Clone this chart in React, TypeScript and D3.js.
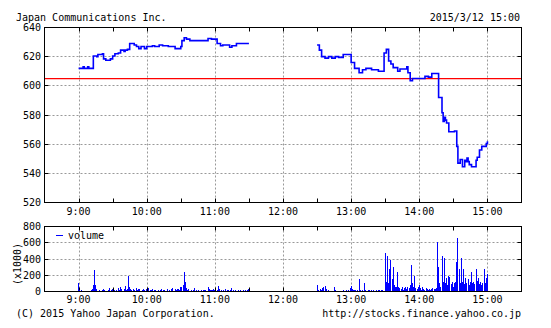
import React from 'react';
import * as d3 from 'd3';

const title = 'Japan Communications Inc.';
const stamp = '2015/3/12 15:00';
const copyright = '(C) 2015 Yahoo Japan Corporation.';
const sourceUrl = 'http://stocks.finance.yahoo.co.jp';
const prevClose = 605;
const priceTicks = [520, 540, 560, 580, 600, 620, 640];
const volumeTicks = [0, 200, 400, 600, 800];
const hourLabels = ['9:00', '10:00', '11:00', '12:00', '13:00', '14:00', '15:00'];
const halfHourMarks = ['9:00', '9:30', '10:00', '10:30', '11:00', '11:30', '12:00', '12:30', '13:00', '13:30', '14:00', '14:30', '15:00'];

// morning session price change points
const amTimes = ['9:00', '9:04', '9:05', '9:08', '9:09', '9:13', '9:16', '9:17', '9:21', '9:22', '9:24', '9:28', '9:30', '9:32', '9:35', '9:37', '9:40', '9:41', '9:43', '9:45', '9:49', '9:51', '9:53', '9:55', '9:58', '10:00', '10:05', '10:07', '10:11', '10:14', '10:19', '10:25', '10:30', '10:31', '10:33', '10:35', '10:38', '10:54', '10:57', '11:02', '11:05', '11:07', '11:13', '11:15', '11:19', '11:30'];
const amPrices = [612, 613, 612, 613, 612, 620.5, 620, 621.5, 622, 618.5, 617.5, 618.5, 620.5, 622, 622.5, 624.5, 623.5, 624.5, 625, 629, 628, 627, 625.5, 627, 625.5, 627, 627.5, 627, 628, 627.5, 627, 625.5, 627, 631, 633, 632, 631, 632.5, 632, 629, 627.5, 628, 626.5, 627.5, 629, 629];

// afternoon session price change points
const pmTimes = ['12:30', '12:32', '12:34', '12:37', '12:40', '12:43', '12:46', '12:49', '12:53', '13:00', '13:03', '13:07', '13:10', '13:13', '13:18', '13:24', '13:29', '13:31', '13:33', '13:35', '13:37', '13:41', '13:43', '13:49', '13:50', '13:52', '13:54', '14:05', '14:08', '14:11', '14:17', '14:20', '14:21', '14:22', '14:23', '14:24', '14:26', '14:31', '14:33', '14:34', '14:36', '14:38', '14:40', '14:41', '14:42', '14:43', '14:44', '14:46', '14:47', '14:50', '14:51', '14:53', '14:55', '14:57', '14:59', '15:00'];
const pmPrices = [628, 624.5, 620, 619, 620, 619, 620, 619.5, 621.5, 616, 612, 609, 611, 612, 611, 610, 622.5, 625, 617, 615, 612.5, 610, 611.5, 613, 609, 603.5, 605, 606.5, 606, 608.5, 592, 581.5, 575.5, 578.5, 576.5, 574.5, 568.5, 569, 558.5, 547, 549.5, 544.5, 549, 548, 550.5, 548, 546, 544.5, 544.5, 549, 551, 556, 558.5, 558.5, 560.5, 562];

// per-minute volume (x1000)
const amVolumeStart = '9:00';
const amVolumes = [
  100, 20, 10, 15, 8, 5, 10, 5, 12, 5,
  10, 20, 30, 80, 260, 80, 30, 10, 15, 5,
  10, 20, 35, 15, 10, 5, 15, 40, 10, 15,
  30, 10, 20, 15, 10, 45, 20, 60, 25, 10,
  30, 70, 20, 30, 190, 50, 25, 15, 35, 20,
  10, 40, 15, 25, 30, 10, 20, 35, 15, 10,
  25, 10, 40, 20, 15, 30, 10, 20, 15, 10,
  20, 10, 15, 30, 10, 20, 15, 10, 25, 10,
  15, 10, 30, 40, 10, 25, 20, 30, 30, 20,
  60, 50, 80, 240, 120, 40, 20, 25, 10, 15,
  10, 20, 40, 10, 15, 10, 20, 10, 15, 10,
  20, 15, 20, 10, 60, 30, 20, 15, 20, 25,
  15, 10, 20, 65, 35, 10, 15, 10, 20, 25,
  10, 15, 20, 10, 15, 40, 20, 10, 15, 10,
  10, 20, 10, 15, 10, 15, 10, 20, 10, 15,
  30,
];
const pmVolumeStart = '12:30';
const pmVolumes = [
  75, 20, 10, 30, 15, 40, 55, 70, 30, 10,
  15, 10, 5, 10, 5, 60, 15, 10, 5, 10,
  10, 5, 10, 15, 10, 5, 20, 10, 15, 40,
  70, 30, 15, 20, 15, 10, 20, 150, 15, 10,
  20, 10, 100, 20, 10, 15, 20, 10, 15, 10,
  15, 10, 20, 10, 15, 20, 10, 15, 20, 10,
  480, 120, 440, 100, 280, 390, 150, 300, 80, 60,
  50, 240, 60, 40, 30, 50, 20, 40, 60, 30,
  50, 40, 80, 330, 100, 60, 190, 40, 30, 60,
  80, 40, 20, 60, 30, 20, 40, 30, 20, 30,
  20, 30, 40, 25, 30, 40, 615, 300, 100, 50,
  440, 120, 415, 100, 170, 80, 190, 180, 90, 120,
  60, 100, 120, 365, 660, 280, 100, 410, 120, 280,
  90, 170, 110, 150, 80, 120, 240, 100, 120, 90,
  280, 130, 170, 90, 120, 80, 100, 280, 110, 170,
  210,
];

const toMin = (s: string) => {
  const [h, m] = s.split(':').map(Number);
  return h * 60 + m - 540;
};

const FONT = "'DejaVu Sans Mono', monospace";
const GRID = '#999';

export default function App() {
  const W = 551, H = 328;
  const L = 44.5, R = 521.5;
  const x = d3.scaleLinear().domain([-30, 390]).range([L, R]);
  const yP = d3.scaleLinear().domain([520, 640]).range([202.5, 27.5]);
  const yV = d3.scaleLinear().domain([0, 800]).range([291.5, 226.5]);

  const line = d3
    .line<[number, number]>()
    .x((d) => x(d[0]))
    .y((d) => yP(d[1]))
    .curve(d3.curveStepAfter);

  const am: [number, number][] = amTimes.map((t, i) => [toMin(t), amPrices[i]]);
  const pm: [number, number][] = pmTimes.map((t, i) => [toMin(t), pmPrices[i]]);

  const bars: { m: number; v: number }[] = [];
  amVolumes.forEach((v, i) => bars.push({ m: toMin(amVolumeStart) + i, v }));
  pmVolumes.forEach((v, i) => bars.push({ m: toMin(pmVolumeStart) + i, v }));

  const panel = (top: number, bottom: number, yTicks: number[], ys: (v: number) => number) => (
    <g>
      {hourLabels.map((h) => (
        <line key={'gx' + h} x1={Math.round(x(toMin(h))) + 0.5} x2={Math.round(x(toMin(h))) + 0.5} y1={top} y2={bottom}
          stroke={GRID} strokeDasharray="2,2" />
      ))}
      {yTicks.slice(1, -1).map((v) => (
        <line key={'gy' + v} x1={L} x2={R} y1={Math.round(ys(v) - 0.5) + 0.5} y2={Math.round(ys(v) - 0.5) + 0.5}
          stroke={GRID} strokeDasharray="2,2" />
      ))}
      {halfHourMarks.map((h) => {
        const xx = Math.round(x(toMin(h))) + 0.5;
        return (
          <g key={'t' + h}>
            <line x1={xx} x2={xx} y1={top} y2={top + 4} stroke="#000" />
            <line x1={xx} x2={xx} y1={bottom} y2={bottom - 4} stroke="#000" />
          </g>
        );
      })}
      {yTicks.map((v) => {
        const yy = Math.round(ys(v) - 0.5) + 0.5;
        return (
          <g key={'ty' + v}>
            <line x1={L} x2={L + 4} y1={yy} y2={yy} stroke="#000" />
            <line x1={R} x2={R - 4} y1={yy} y2={yy} stroke="#000" />
          </g>
        );
      })}
    </g>
  );

  return (
    <svg width={W} height={H} style={{ position: 'absolute', left: 0, top: 0, background: '#fff' }}
      fontFamily={FONT} fontSize={10}>
      <rect width={W} height={H} fill="#fff" />
      <text x={16} y={21}>{title}</text>
      <text x={520} y={21} textAnchor="end">{stamp}</text>

      {/* price panel */}
      {panel(27.5, 202.5, priceTicks, yP)}
      <line x1={L} x2={R} y1={yP(prevClose)} y2={yP(prevClose)} stroke="#f00" strokeWidth={1.2} />
      <path d={line(am) || ''} fill="none" stroke="#00f" strokeWidth={1.6} />
      <path d={line(pm) || ''} fill="none" stroke="#00f" strokeWidth={1.6} />
      <rect x={L} y={27.5} width={R - L} height={175} fill="none" stroke="#000" />
      {priceTicks.map((v) => (
        <text key={'pl' + v} x={41} y={yP(v) + 3.6} textAnchor="end">{v}</text>
      ))}
      {hourLabels.map((h) => (
        <text key={'xl' + h} x={x(toMin(h))} y={215} textAnchor="middle">{h}</text>
      ))}

      {/* volume panel */}
      {panel(226.5, 291.5, volumeTicks, yV)}
      {bars.map((b, i) => (
        <rect key={'b' + i} x={Math.floor(x(b.m))} y={yV(b.v)} width={1} height={yV(0) - yV(b.v)} fill="#00f"
          shapeRendering="crispEdges" />
      ))}
      <rect x={L} y={226.5} width={R - L} height={65} fill="none" stroke="#000" />
      <line x1={56} x2={63} y1={235.5} y2={235.5} stroke="#00f" />
      <text x={68} y={239}>volume</text>
      {volumeTicks.map((v) => (
        <text key={'vl' + v} x={41} y={yV(v) + 3.6} textAnchor="end">{v}</text>
      ))}
      <text transform="translate(21,264) rotate(-90)" textAnchor="middle">(x1000)</text>
      {hourLabels.map((h) => (
        <text key={'vx' + h} x={x(toMin(h))} y={303} textAnchor="middle">{h}</text>
      ))}

      <text x={16} y={317}>{copyright}</text>
      <text x={521} y={317} textAnchor="end">{sourceUrl}</text>
    </svg>
  );
}
